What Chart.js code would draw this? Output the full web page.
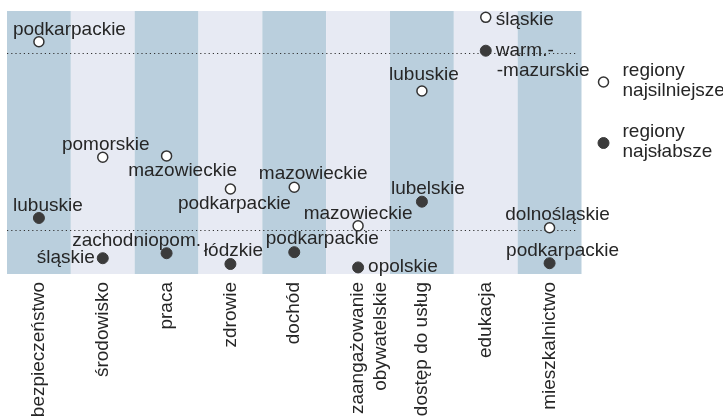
<!DOCTYPE html>
<html>
<head>
<meta charset="utf-8">
<script src="https://cdn.jsdelivr.net/npm/chart.js@4/dist/chart.umd.min.js"></script>
<style>
  html, body { margin: 0; padding: 0; background: #fff; }
  #wrap { width: 723px; height: 417px; }
</style>
</head>
<body>
<div id="wrap"><canvas id="chart"></canvas></div>
<script>
const categories = ['bezpieczeństwo', 'środowisko', 'praca', 'zdrowie', 'dochód',
  ['zaangażowanie', 'obywatelskie'], 'dostęp do usług', 'edukacja', 'mieszkalnictwo'];

const strongRegions = ['podkarpackie', 'pomorskie', 'mazowieckie', 'podkarpackie', 'mazowieckie',
  'mazowieckie', 'lubuskie', 'śląskie', 'dolnośląskie'];
const strongValues = [88.3, 44.4, 44.9, 32.3, 33.0, 18.3, 69.6, 97.6, 17.6];

const weakRegions = ['lubuskie', 'śląskie', 'zachodniopom.', 'łódzkie', 'podkarpackie',
  'opolskie', 'lubelskie', 'warm.-\n-mazurskie', 'podkarpackie'];
const weakValues = [21.3, 6.0, 7.9, 3.8, 8.3, 2.5, 27.5, 84.9, 4.1];

const legendLabels = [['regiony', 'najsilniejsze'], ['regiony', 'najsłabsze']];
const referenceLines = [83.9, 16.7];

// placement of region names next to their points: [dx, dy to baseline, align]
const strongLabelPos = [
  [-26, -7, 'left'], [3, -7, 'center'], [16, 20, 'center'], [4, 20, 'center'], [19, -8, 'center'],
  [0, -7, 'center'], [2, -11, 'center'], [10, 8, 'left'], [8, -8, 'center']
];
const weakLabelPos = [
  [9, -7, 'center'], [-8, 5, 'right'], [-30, -7, 'center'], [3, -8, 'center'], [28, -8, 'center'],
  [10, 5, 'left'], [6, -8, 'center'], [10, 5, 'left'], [13, -7, 'center']
];

const TEXT = '#262626';
const FONT = '19px "Liberation Sans", Arial, sans-serif';

const stripes = {
  id: 'stripes',
  beforeDatasetsDraw(chart) {
    const { ctx, chartArea, scales: { x, y } } = chart;
    const w = (chartArea.right - chartArea.left) / categories.length;
    ctx.save();
    categories.forEach((c, i) => {
      const cx = x.getPixelForValue(i);
      ctx.fillStyle = i % 2 === 0 ? '#bacfdd' : '#e7eaf3';
      ctx.fillRect(cx - w / 2, chartArea.top, w, chartArea.bottom - chartArea.top);
    });
    // dotted reference lines
    ctx.strokeStyle = '#333';
    ctx.lineWidth = 1.2;
    ctx.setLineDash([1.2, 3]);
    referenceLines.forEach(v => {
      const py = Math.round(y.getPixelForValue(v)) + 0.5;
      ctx.beginPath();
      ctx.moveTo(chartArea.left, py);
      ctx.lineTo(chartArea.right - 5, py);
      ctx.stroke();
    });
    ctx.restore();
  }
};

const pointNames = {
  id: 'pointNames',
  afterDatasetsDraw(chart) {
    const ctx = chart.ctx;
    const sets = [[strongRegions, strongLabelPos], [weakRegions, weakLabelPos]];
    ctx.save();
    ctx.font = FONT;
    ctx.fillStyle = TEXT;
    ctx.textBaseline = 'alphabetic';
    sets.forEach(([names, pos], di) => {
      chart.getDatasetMeta(di).data.forEach((pt, i) => {
        const [dx, dy, align] = pos[i];
        ctx.textAlign = align;
        names[i].split('\n').forEach((line, li) => {
          ctx.fillText(line, pt.x + dx + (li > 0 ? 1 : 0), pt.y + dy + li * 20);
        });
      });
    });
    ctx.restore();
  }
};

const sideLegend = {
  id: 'sideLegend',
  afterDraw(chart) {
    const { ctx, chartArea } = chart;
    ctx.save();
    ctx.font = FONT;
    ctx.textAlign = 'left';
    ctx.textBaseline = 'alphabetic';
    chart.data.datasets.forEach((ds, i) => {
      const cy = chartArea.top + 71 + i * 61;
      const cx = chartArea.right + 22;
      ctx.beginPath();
      ctx.arc(cx, cy, ds.pointRadius, 0, Math.PI * 2);
      ctx.fillStyle = ds.pointBackgroundColor;
      ctx.fill();
      ctx.lineWidth = ds.pointBorderWidth;
      ctx.strokeStyle = ds.pointBorderColor;
      ctx.stroke();
      ctx.fillStyle = TEXT;
      legendLabels[i].forEach((line, li) => {
        ctx.fillText(line, cx + 19, cy - 6 + li * 20);
      });
    });
    ctx.restore();
  }
};

new Chart(document.getElementById('chart'), {
  type: 'line',
  data: {
    labels: categories,
    datasets: [
      {
        label: 'regiony najsilniejsze',
        data: strongValues,
        showLine: false,
        pointRadius: 5,
        pointBackgroundColor: '#ffffff',
        pointBorderColor: '#333333',
        pointBorderWidth: 1.5
      },
      {
        label: 'regiony najsłabsze',
        data: weakValues,
        showLine: false,
        pointRadius: 5.5,
        pointBackgroundColor: '#3b3b3b',
        pointBorderColor: '#3b3b3b',
        pointBorderWidth: 1
      }
    ]
  },
  options: {
    responsive: true,
    maintainAspectRatio: false,
    animation: false,
    layout: { padding: { left: 7, top: 11, right: 141.5, bottom: 0 } },
    plugins: {
      legend: { display: false },
      tooltip: { enabled: false }
    },
    scales: {
      x: {
        type: 'category',
        offset: true,
        grid: { display: false, drawTicks: false },
        border: { display: false },
        afterFit(scale) { scale.height = 143; },
        ticks: {
          autoSkip: false,
          minRotation: 90,
          maxRotation: 90,
          padding: 8,
          color: TEXT,
          font: { family: '"Liberation Sans", Arial, sans-serif', size: 19 }
        }
      },
      y: {
        display: false,
        min: 0,
        max: 100
      }
    }
  },
  plugins: [stripes, pointNames, sideLegend]
});
</script>
</body>
</html>
